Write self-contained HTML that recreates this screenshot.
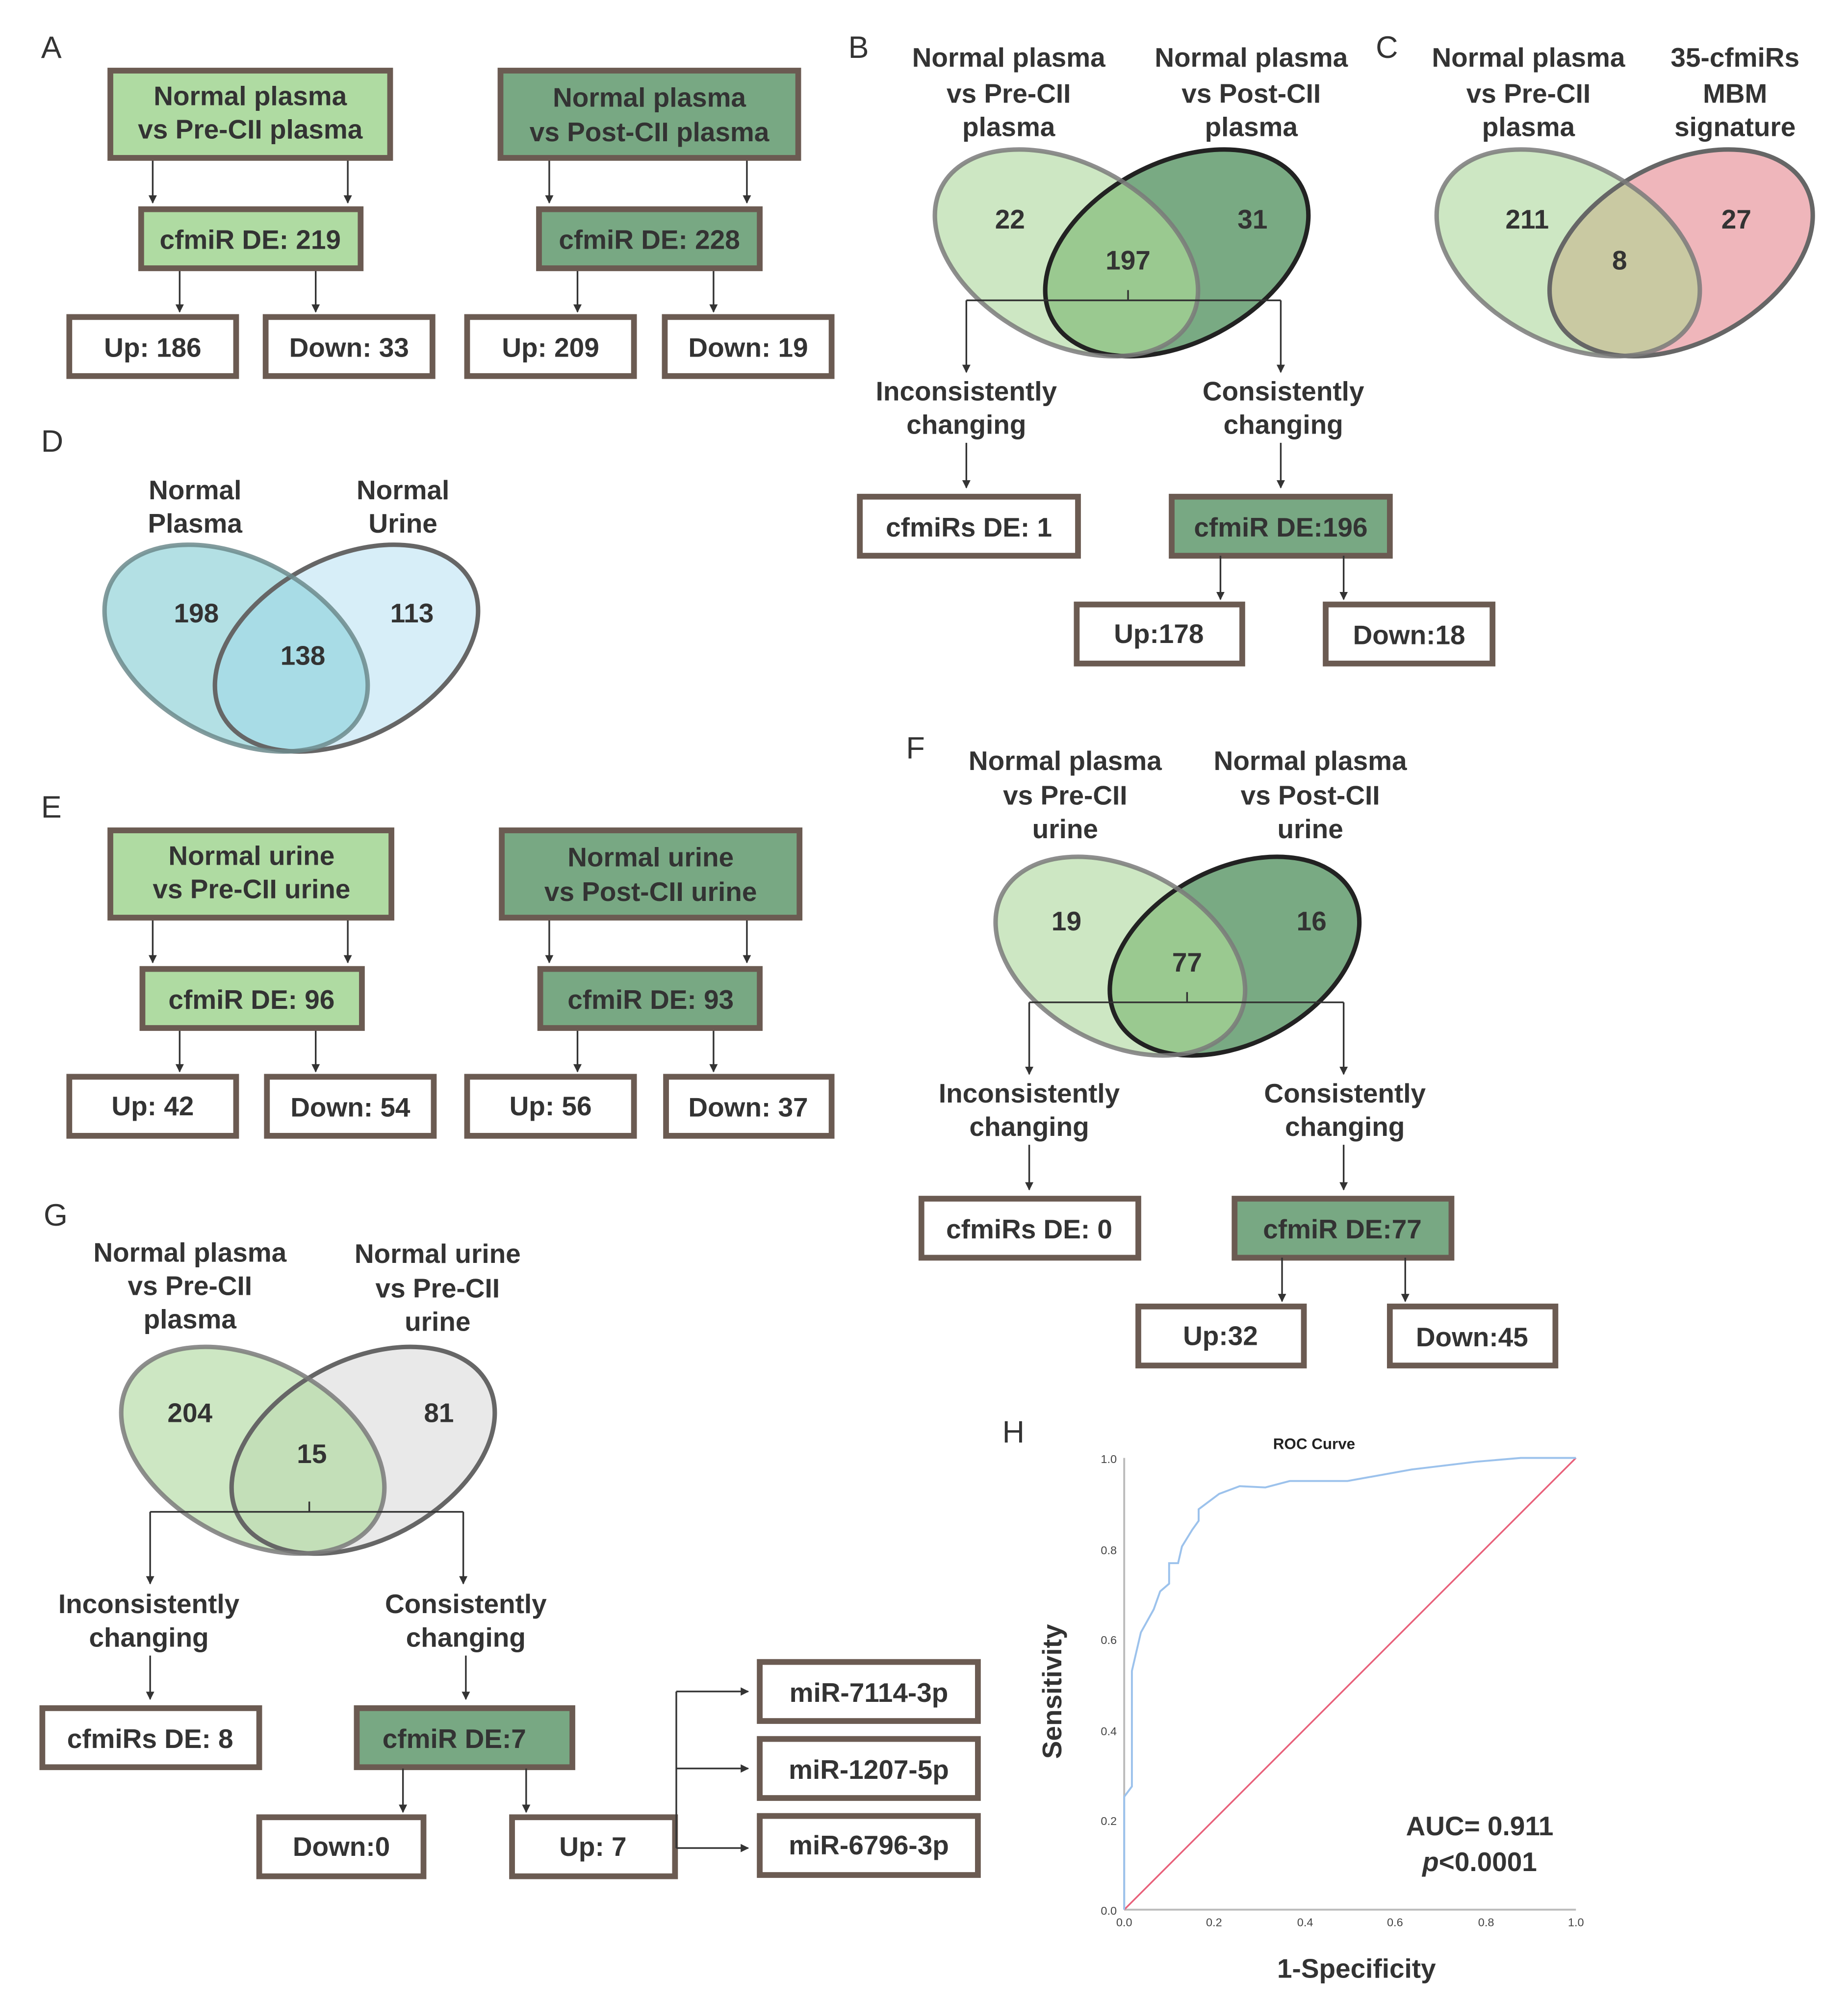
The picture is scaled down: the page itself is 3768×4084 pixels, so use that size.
<!DOCTYPE html>
<html><head><meta charset="utf-8"><style>
html,body{margin:0;padding:0;background:#fff}
svg{display:block}
text{font-family:"Liberation Sans",Arial,sans-serif}
.b{font-weight:bold;font-size:21px;fill:#333;text-anchor:middle}
.l{font-size:24px;fill:#333}
.n{font-weight:bold;font-size:21px;fill:#333;text-anchor:middle}
.t{font-size:9px;fill:#444;text-anchor:middle}
</style></head><body>
<svg width="3768" height="4084" viewBox="0 0 1440 1560.7" xmlns="http://www.w3.org/2000/svg">
<defs>
<marker id="ar" viewBox="0 0 10 10" refX="9" refY="5" markerWidth="5" markerHeight="5" orient="auto"><path d="M0,0L10,5L0,10z" fill="#333"/></marker>
<clipPath id="cB"><ellipse cx="831" cy="197" rx="110" ry="70" transform="rotate(28 831 197)"/></clipPath>
<clipPath id="cC"><ellipse cx="1222" cy="197" rx="110" ry="70" transform="rotate(28 1222 197)"/></clipPath>
<clipPath id="cD"><ellipse cx="184" cy="505" rx="110" ry="70" transform="rotate(28 184 505)"/></clipPath>
<clipPath id="cF"><ellipse cx="873" cy="745" rx="104" ry="68" transform="rotate(28 873 745)"/></clipPath>
<clipPath id="cG"><ellipse cx="197" cy="1130" rx="110" ry="70" transform="rotate(28 197 1130)"/></clipPath>
</defs>
<g stroke="#333" stroke-width="1.3" fill="none" marker-end="url(#ar)">
<line x1="119" y1="124" x2="119" y2="158"/><line x1="271" y1="124" x2="271" y2="158"/>
<line x1="140" y1="210" x2="140" y2="243"/><line x1="246" y1="210" x2="246" y2="243"/>
<line x1="428" y1="124" x2="428" y2="158"/><line x1="582" y1="124" x2="582" y2="158"/>
<line x1="450" y1="210" x2="450" y2="243"/><line x1="556" y1="210" x2="556" y2="243"/>
<line x1="119" y1="716" x2="119" y2="750"/><line x1="271" y1="716" x2="271" y2="750"/>
<line x1="140" y1="802" x2="140" y2="835"/><line x1="246" y1="802" x2="246" y2="835"/>
<line x1="428" y1="716" x2="428" y2="750"/><line x1="582" y1="716" x2="582" y2="750"/>
<line x1="450" y1="802" x2="450" y2="835"/><line x1="556" y1="802" x2="556" y2="835"/>
</g>
<g stroke="#6b5b52" stroke-width="4.5">
<rect x="86" y="55" width="218" height="68" fill="#afdba2"/>
<rect x="110" y="163" width="171" height="46" fill="#afdba2"/>
<rect x="54" y="247" width="130" height="46" fill="#fff"/>
<rect x="207" y="247" width="130" height="46" fill="#fff"/>
<rect x="390" y="55" width="232" height="68" fill="#78a883"/>
<rect x="420" y="163" width="172" height="46" fill="#78a883"/>
<rect x="364" y="247" width="130" height="46" fill="#fff"/>
<rect x="518" y="247" width="130" height="46" fill="#fff"/>
<rect x="86" y="647" width="219" height="68" fill="#afdba2"/>
<rect x="111" y="755" width="171" height="46" fill="#afdba2"/>
<rect x="54" y="839" width="130" height="46" fill="#fff"/>
<rect x="208" y="839" width="130" height="46" fill="#fff"/>
<rect x="391" y="647" width="232" height="68" fill="#78a883"/>
<rect x="421" y="755" width="171" height="46" fill="#78a883"/>
<rect x="364" y="839" width="130" height="46" fill="#fff"/>
<rect x="519" y="839" width="129" height="46" fill="#fff"/>
<rect x="670" y="387" width="170" height="46" fill="#fff"/>
<rect x="913" y="387" width="170" height="46" fill="#78a883"/>
<rect x="839" y="471" width="129" height="46" fill="#fff"/>
<rect x="1033" y="471" width="130" height="46" fill="#fff"/>
<rect x="718" y="934" width="169" height="46" fill="#fff"/>
<rect x="962" y="934" width="169" height="46" fill="#78a883"/>
<rect x="887" y="1018" width="129" height="46" fill="#fff"/>
<rect x="1083" y="1018" width="129" height="46" fill="#fff"/>
<rect x="33" y="1331" width="169" height="46" fill="#fff"/>
<rect x="278" y="1331" width="168" height="46" fill="#78a883"/>
<rect x="202" y="1416" width="128" height="46" fill="#fff"/>
<rect x="399" y="1416" width="127" height="46" fill="#fff"/>
<rect x="592" y="1295" width="170" height="46" fill="#fff"/>
<rect x="592" y="1355" width="170" height="46" fill="#fff"/>
<rect x="592" y="1415" width="170" height="46" fill="#fff"/>
</g>
<g class="b">
<text x="195" y="82">Normal plasma</text><text x="195" y="108">vs Pre-CII plasma</text>
<text x="195" y="194">cfmiR DE: 219</text>
<text x="119" y="278">Up: 186</text><text x="272" y="278">Down: 33</text>
<text x="506" y="83">Normal plasma</text><text x="506" y="110">vs Post-CII plasma</text>
<text x="506" y="194">cfmiR DE: 228</text>
<text x="429" y="278">Up: 209</text><text x="583" y="278">Down: 19</text>
<text x="196" y="674">Normal urine</text><text x="196" y="700">vs Pre-CII urine</text>
<text x="196" y="786">cfmiR DE: 96</text>
<text x="119" y="869">Up: 42</text><text x="273" y="870">Down: 54</text>
<text x="507" y="675">Normal urine</text><text x="507" y="702">vs Post-CII urine</text>
<text x="507" y="786">cfmiR DE: 93</text>
<text x="429" y="869">Up: 56</text><text x="583" y="870">Down: 37</text>
<text x="755" y="418">cfmiRs DE: 1</text>
<text x="998" y="418">cfmiR DE:196</text>
<text x="903" y="501">Up:178</text><text x="1098" y="502">Down:18</text>
<text x="802" y="965">cfmiRs DE: 0</text>
<text x="1046" y="965">cfmiR DE:77</text>
<text x="951" y="1048">Up:32</text><text x="1147" y="1049">Down:45</text>
<text x="117" y="1362">cfmiRs DE: 8</text>
<text x="354" y="1362">cfmiR DE:7</text>
<text x="266" y="1446">Down:0</text><text x="462" y="1446">Up: 7</text>
<text x="677" y="1326">miR-7114-3p</text>
<text x="677" y="1386">miR-1207-5p</text>
<text x="677" y="1445">miR-6796-3p</text>
</g>
<g class="l">
<text x="32" y="45">A</text><text x="661" y="45">B</text><text x="1072" y="45">C</text>
<text x="32" y="352">D</text><text x="32" y="637">E</text><text x="706" y="591">F</text>
<text x="34" y="955">G</text><text x="781" y="1124">H</text>
</g>
<g class="b">
<text x="786" y="52">Normal plasma</text><text x="786" y="80">vs Pre-CII</text><text x="786" y="106">plasma</text>
<text x="975" y="52">Normal plasma</text><text x="975" y="80">vs Post-CII</text><text x="975" y="106">plasma</text>
<text x="1191" y="52">Normal plasma</text><text x="1191" y="80">vs Pre-CII</text><text x="1191" y="106">plasma</text>
<text x="1352" y="52">35-cfmiRs</text><text x="1352" y="80">MBM</text><text x="1352" y="106">signature</text>
<text x="152" y="389">Normal</text><text x="152" y="415">Plasma</text>
<text x="314" y="389">Normal</text><text x="314" y="415">Urine</text>
<text x="830" y="600">Normal plasma</text><text x="830" y="627">vs Pre-CII</text><text x="830" y="653">urine</text>
<text x="1021" y="600">Normal plasma</text><text x="1021" y="627">vs Post-CII</text><text x="1021" y="653">urine</text>
<text x="148" y="983">Normal plasma</text><text x="148" y="1009">vs Pre-CII</text><text x="148" y="1035">plasma</text>
<text x="341" y="984">Normal urine</text><text x="341" y="1011">vs Pre-CII</text><text x="341" y="1037">urine</text>
<text x="753" y="312">Inconsistently</text><text x="753" y="338">changing</text>
<text x="1000" y="312">Consistently</text><text x="1000" y="338">changing</text>
<text x="802" y="859">Inconsistently</text><text x="802" y="885">changing</text>
<text x="1048" y="859">Consistently</text><text x="1048" y="885">changing</text>
<text x="116" y="1257">Inconsistently</text><text x="116" y="1283">changing</text>
<text x="363" y="1257">Consistently</text><text x="363" y="1283">changing</text>
</g>
<!-- Venn B -->
<ellipse cx="831" cy="197" rx="110" ry="70" transform="rotate(28 831 197)" fill="#cde7c3"/>
<ellipse cx="917" cy="197" rx="110" ry="70" transform="rotate(-28 917 197)" fill="#79aa83"/>
<g clip-path="url(#cB)"><ellipse cx="917" cy="197" rx="110" ry="70" transform="rotate(-28 917 197)" fill="#9ac990"/></g>
<ellipse cx="917" cy="197" rx="110" ry="70" transform="rotate(-28 917 197)" fill="none" stroke="#222" stroke-width="3.5"/>
<ellipse cx="831" cy="197" rx="110" ry="70" transform="rotate(28 831 197)" fill="none" stroke="#7a7a7a" stroke-width="3.5" opacity="0.85"/>
<!-- Venn C -->
<ellipse cx="1222" cy="197" rx="110" ry="70" transform="rotate(28 1222 197)" fill="#cde7c3"/>
<ellipse cx="1310" cy="197" rx="110" ry="70" transform="rotate(-28 1310 197)" fill="#efb6bb"/>
<g clip-path="url(#cC)"><ellipse cx="1310" cy="197" rx="110" ry="70" transform="rotate(-28 1310 197)" fill="#c9c9a2"/></g>
<ellipse cx="1310" cy="197" rx="110" ry="70" transform="rotate(-28 1310 197)" fill="none" stroke="#666" stroke-width="3.5"/>
<ellipse cx="1222" cy="197" rx="110" ry="70" transform="rotate(28 1222 197)" fill="none" stroke="#7a7a7a" stroke-width="3.5" opacity="0.85"/>
<!-- Venn D -->
<ellipse cx="184" cy="505" rx="110" ry="70" transform="rotate(28 184 505)" fill="#b3e0e4"/>
<ellipse cx="270" cy="505" rx="110" ry="70" transform="rotate(-28 270 505)" fill="#d7eef8"/>
<g clip-path="url(#cD)"><ellipse cx="270" cy="505" rx="110" ry="70" transform="rotate(-28 270 505)" fill="#a8dce6"/></g>
<ellipse cx="270" cy="505" rx="110" ry="70" transform="rotate(-28 270 505)" fill="none" stroke="#666" stroke-width="3.5"/>
<ellipse cx="184" cy="505" rx="110" ry="70" transform="rotate(28 184 505)" fill="none" stroke="#6c8a8c" stroke-width="3.5" opacity="0.85"/>
<!-- Venn F -->
<ellipse cx="873" cy="745" rx="104" ry="68" transform="rotate(28 873 745)" fill="#cde7c3"/>
<ellipse cx="962" cy="745" rx="104" ry="68" transform="rotate(-28 962 745)" fill="#79aa83"/>
<g clip-path="url(#cF)"><ellipse cx="962" cy="745" rx="104" ry="68" transform="rotate(-28 962 745)" fill="#9ac990"/></g>
<ellipse cx="962" cy="745" rx="104" ry="68" transform="rotate(-28 962 745)" fill="none" stroke="#222" stroke-width="3.5"/>
<ellipse cx="873" cy="745" rx="104" ry="68" transform="rotate(28 873 745)" fill="none" stroke="#7a7a7a" stroke-width="3.5" opacity="0.85"/>
<!-- Venn G -->
<ellipse cx="197" cy="1130" rx="110" ry="70" transform="rotate(28 197 1130)" fill="#cde7c3"/>
<ellipse cx="283" cy="1130" rx="110" ry="70" transform="rotate(-28 283 1130)" fill="#e9e9e9"/>
<g clip-path="url(#cG)"><ellipse cx="283" cy="1130" rx="110" ry="70" transform="rotate(-28 283 1130)" fill="#c3dfb8"/></g>
<ellipse cx="283" cy="1130" rx="110" ry="70" transform="rotate(-28 283 1130)" fill="none" stroke="#666" stroke-width="3.5"/>
<ellipse cx="197" cy="1130" rx="110" ry="70" transform="rotate(28 197 1130)" fill="none" stroke="#7a7a7a" stroke-width="3.5" opacity="0.85"/>
<g class="n">
<text x="787" y="178">22</text><text x="976" y="178">31</text><text x="879" y="210">197</text>
<text x="1190" y="178">211</text><text x="1353" y="178">27</text><text x="1262" y="210">8</text>
<text x="153" y="485">198</text><text x="321" y="485">113</text><text x="236" y="518">138</text>
<text x="831" y="725">19</text><text x="1022" y="725">16</text><text x="925" y="757">77</text>
<text x="148" y="1108">204</text><text x="342" y="1108">81</text><text x="243" y="1140">15</text>
</g>
<g stroke="#333" stroke-width="1.3" fill="none">
<line x1="879" y1="226" x2="879" y2="234"/><polyline points="753,234 998,234"/>
<line x1="925" y1="773" x2="925" y2="781"/><polyline points="802,781 1047,781"/>
<line x1="241" y1="1170" x2="241" y2="1178"/><polyline points="117,1178 361,1178"/>
<line x1="527" y1="1318" x2="527" y2="1440"/>
</g>
<g stroke="#333" stroke-width="1.3" fill="none" marker-end="url(#ar)">
<line x1="753" y1="234" x2="753" y2="290"/><line x1="998" y1="234" x2="998" y2="290"/>
<line x1="753" y1="345" x2="753" y2="380"/><line x1="998" y1="345" x2="998" y2="380"/>
<line x1="951" y1="433" x2="951" y2="467"/><line x1="1047" y1="433" x2="1047" y2="467"/>
<line x1="802" y1="781" x2="802" y2="837"/><line x1="1047" y1="781" x2="1047" y2="837"/>
<line x1="802" y1="892" x2="802" y2="927"/><line x1="1047" y1="892" x2="1047" y2="927"/>
<line x1="999" y1="980" x2="999" y2="1014"/><line x1="1095" y1="980" x2="1095" y2="1014"/>
<line x1="117" y1="1178" x2="117" y2="1234"/><line x1="361" y1="1178" x2="361" y2="1234"/>
<line x1="117" y1="1290" x2="117" y2="1324"/><line x1="363" y1="1290" x2="363" y2="1324"/>
<line x1="314" y1="1378" x2="314" y2="1412"/><line x1="410" y1="1378" x2="410" y2="1412"/>
<line x1="527" y1="1318" x2="583" y2="1318"/><line x1="527" y1="1378" x2="583" y2="1378"/><line x1="527" y1="1440" x2="583" y2="1440"/>
</g>
<g>
<line x1="876" y1="1136" x2="876" y2="1488" stroke="#bbb" stroke-width="1.5"/>
<line x1="876" y1="1488" x2="1228" y2="1488" stroke="#bbb" stroke-width="1.5"/>
<line x1="876" y1="1488" x2="1228" y2="1136" stroke="#e8607a" stroke-width="1.3"/>
<polyline fill="none" stroke="#9cc2ec" stroke-width="1.5" points="876,1488 876,1400 882,1392 882,1302 889,1272 899,1254 904,1240 911,1234 911,1218 918,1218 921,1205 929,1192 934,1185 934,1176 950,1164 966,1158 986,1159 1005,1154 1050,1154 1100,1145 1150,1139 1185,1136 1228,1136"/>
<text x="1024" y="1129" style="font-weight:bold;font-size:12px;fill:#222;text-anchor:middle">ROC Curve</text>
<g class="t">
<text x="864" y="1140">1.0</text><text x="864" y="1211">0.8</text><text x="864" y="1281">0.6</text>
<text x="864" y="1352">0.4</text><text x="864" y="1422">0.2</text><text x="864" y="1492">0.0</text>
<text x="876" y="1501">0.0</text><text x="946" y="1501">0.2</text><text x="1017" y="1501">0.4</text>
<text x="1087" y="1501">0.6</text><text x="1158" y="1501">0.8</text><text x="1228" y="1501">1.0</text>
</g>
<text x="827" y="1318" transform="rotate(-90 827 1318)" style="font-weight:bold;font-size:21px;fill:#333;text-anchor:middle">Sensitivity</text>
<text x="1057" y="1541" style="font-weight:bold;font-size:21px;fill:#333;text-anchor:middle">1-Specificity</text>
<text x="1153" y="1430" style="font-weight:bold;font-size:21px;fill:#333;text-anchor:middle">AUC= 0.911</text>
<text x="1153" y="1458" style="font-weight:bold;font-size:21px;fill:#333;text-anchor:middle"><tspan font-style="italic">p</tspan>&lt;0.0001</text>
</g>
</svg>
</body></html>
